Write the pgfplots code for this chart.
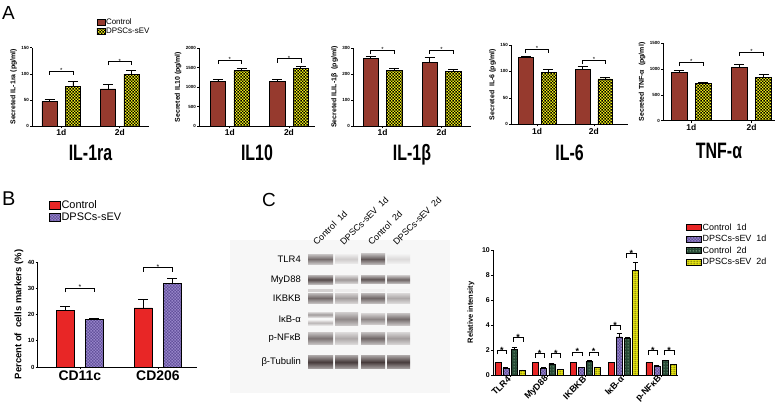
\documentclass[border=0pt]{standalone}
\usepackage{fontspec}
\setmainfont{Liberation Sans}
\usepackage{graphicx}
\usepackage{pgfplots}
\pgfplotsset{compat=1.18}
\usetikzlibrary{patterns.meta}

\definecolor{actrl}{RGB}{150,58,46}
\definecolor{ayel}{RGB}{240,238,20}
\definecolor{bred}{RGB}{232,38,38}
\definecolor{bpur}{RGB}{98,80,155}
\definecolor{bpurlt}{RGB}{150,132,200}
\definecolor{cgrn}{RGB}{38,72,52}
\definecolor{cgrnlt}{RGB}{120,160,130}
\definecolor{bandc}{RGB}{60,48,48}

\tikzdeclarepattern{name=chk, type=uncolored,
  bounding box={(0,0) and (3pt,3pt)}, tile size={(3pt,3pt)},
  code={\fill (0,0) rectangle (1.4pt,1.4pt); \fill (1.5pt,1.5pt) rectangle (2.9pt,2.9pt);}}
\tikzdeclarepattern{name=dots, type=uncolored,
  bounding box={(0,0) and (2.6pt,2.6pt)}, tile size={(2.6pt,2.6pt)},
  code={\fill (1.3pt,1.3pt) circle (0.85pt);}}
\tikzdeclarepattern{name=dash, type=uncolored,
  bounding box={(0,0) and (3pt,1.8pt)}, tile size={(3pt,1.8pt)},
  code={\fill (0.3pt,0.6pt) rectangle (2.5pt,1.2pt);}}

\tikzset{
  rowlab/.style={anchor=east, inner sep=0pt, font=\fontsize{9.5}{9.5}\selectfont},
  lanelab/.style={anchor=south west, rotate=45, inner sep=0pt, font=\fontsize{9}{9}\selectfont},
  cstar/.style={anchor=base, yshift=-3bp, font=\bfseries\fontsize{9}{9}\selectfont},
  astar/.style={anchor=base, yshift=-1.5bp, font=\fontsize{6}{6}\selectfont},
}

\pgfplotsset{
  gp/.style={scale only axis, axis lines*=left, axis line style={line width=0.7pt,-},
    tick align=outside, major tick length=2bp, tick style={line width=0.6pt, black},
    clip=false, /pgf/number format/assume math mode=true, /pgf/number format/1000 sep={}},
  Aax/.style={gp, xtick={1,2}, xticklabels={1d,2d}, ymin=0,
    yticklabel style={font=\bfseries\fontsize{4.5}{5}\selectfont, inner sep=1pt},
    xticklabel style={font=\bfseries\fontsize{8.5}{9}\selectfont, inner sep=1.5pt},
    ylabel style={font=\bfseries\fontsize{7}{8}\selectfont},
    xlabel style={font=\bfseries\fontsize{16}{16}\selectfont, at={(axis description cs:0.5,0)}, anchor=base}},
  errb/.style={error bars/y dir=plus, error bars/y explicit,
    error bars/error bar style={line width=#1, black},
    error bars/error mark options={rotate=90, line width=#1, black}},
  Abar/.style={ybar, bar width=0.26, bar shift=0pt, draw=black, line width=0.6pt,
    errb=0.8pt, error bars/error mark options={rotate=90, mark size=5bp, line width=0.8pt, black}},
  Actrl/.style={Abar, fill=actrl},
  Adpsc/.style={Abar, fill=ayel, postaction={pattern=chk, pattern color=black}},
  brk/.style={black, line width=0.6pt, mark=none},
  boxleg/.style={legend image code/.code={\draw[##1] (0bp,-3bp) rectangle (8bp,3bp);}},
  boxlegB/.style={legend image code/.code={\draw[##1] (0bp,-4bp) rectangle (11bp,4bp);}},
  boxlegC/.style={legend image code/.code={\draw[##1] (0bp,-3bp) rectangle (15bp,3bp);}},
}

\begin{document}
\begin{tikzpicture}
\path[use as bounding box] (0,0) rectangle (778bp,-413bp);

% ---------- Panel letters ----------
\node[anchor=north west, inner sep=0pt, font=\fontsize{19}{19}\selectfont] at (2bp,-6bp) {A};
\node[anchor=north west, inner sep=0pt, font=\fontsize{20}{20}\selectfont] at (2bp,-192bp) {B};
\node[anchor=north west, inner sep=0pt, font=\fontsize{19}{19}\selectfont] at (262bp,-193bp) {C};

% ---------- A1 IL-1ra ----------
\begin{axis}[Aax, at={(32bp,-126bp)}, anchor=south west, width=117bp, height=78.3bp,
  xmin=0.5, xmax=2.5, ymax=150, ytick={0,50,100,150},
  ylabel={Secreted IL-1ra (pg/ml)}, xlabel={\scalebox{1}[1.4]{IL-1ra}},
  xlabel style={yshift=-34bp},
  legend style={at={(axis description cs:0.55,1.39)}, anchor=north west, draw=none, fill=none,
    font=\fontsize{8}{8}\selectfont, row sep=0.5pt, inner sep=0pt, nodes={inner sep=1pt}},
  legend cell align=left]
\addlegendimage{boxleg, fill=actrl, draw=black, line width=0.5pt}
\addlegendentry{Control}
\addlegendimage{boxleg, fill=ayel, draw=black, line width=0.5pt, postaction={pattern=chk, pattern color=black}}
\addlegendentry{DPSCs-sEV}
\addplot[Actrl, forget plot] coordinates {(0.8,46.6) +- (0,5.1) (1.8,70.9) +- (0,8.1)};
\addplot[Adpsc, forget plot] coordinates {(1.2,76.6) +- (0,8.9) (2.2,99.6) +- (0,7.4)};
\addplot[brk, forget plot] coordinates {(0.8,98) (0.8,105) (1.2,105) (1.2,98)};
\addplot[brk, forget plot] coordinates {(1.8,116) (1.8,123) (2.2,123) (2.2,116)};
\node[astar] at (axis cs:1,105) {*};
\node[astar] at (axis cs:2,123) {*};
\end{axis}

% ---------- A2 IL10 ----------
\begin{axis}[Aax, at={(199bp,-126bp)}, anchor=south west, width=116bp, height=78bp,
  xmin=0.48, xmax=2.44, ymax=2000, ytick={0,500,1000,1500,2000},
  ylabel={Secreted IL10 (pg/ml)}, xlabel={\scalebox{1}[1.4]{IL10}},
  xlabel style={yshift=-34bp}]
\addplot[Actrl] coordinates {(0.8,1149) +- (0,42) (1.8,1149) +- (0,40)};
\addplot[Adpsc] coordinates {(1.2,1430) +- (0,42) (2.2,1472) +- (0,51)};
\addplot[brk] coordinates {(0.8,1585) (0.8,1685) (1.2,1685) (1.2,1585)};
\addplot[brk] coordinates {(1.8,1628) (1.8,1728) (2.2,1728) (2.2,1628)};
\node[astar] at (axis cs:1,1685) {*};
\node[astar] at (axis cs:2,1728) {*};
\end{axis}

% ---------- A3 IL-1b ----------
\begin{axis}[Aax, at={(353bp,-126bp)}, anchor=south west, width=118bp, height=78bp,
  xmin=0.5, xmax=2.5, ymax=300, ytick={0,100,200,300},
  ylabel={Secreted ILIL-1β\ \ (pg/ml)}, xlabel={\scalebox{1}[1.4]{IL-1β}},
  xlabel style={yshift=-34bp}]
\addplot[Actrl] coordinates {(0.8,259) +- (0,7) (1.8,246) +- (0,17)};
\addplot[Adpsc] coordinates {(1.2,214) +- (0,8) (2.2,211) +- (0,6)};
\addplot[brk] coordinates {(0.8,276) (0.8,291) (1.2,291) (1.2,276)};
\addplot[brk] coordinates {(1.8,276) (1.8,291) (2.2,291) (2.2,276)};
\node[astar] at (axis cs:1,291) {*};
\node[astar] at (axis cs:2,291) {*};
\end{axis}

% ---------- A4 IL-6 ----------
\begin{axis}[Aax, at={(511bp,-124.3bp)}, anchor=south west, width=117bp, height=79.3bp,
  xmin=0.54, xmax=2.6, ymax=150, ytick={0,50,100,150},
  ylabel={Secreted\ \ IL-6 (pg/ml)}, xlabel={\scalebox{1}[1.4]{IL-6}},
  xlabel style={yshift=-35.7bp}]
\addplot[Actrl] coordinates {(0.8,126.7) +- (0,2.3) (1.8,104.6) +- (0,4.4)};
\addplot[Adpsc] coordinates {(1.2,97.7) +- (0,6.9) (2.2,85.7) +- (0,2.5)};
\addplot[brk] coordinates {(0.8,134) (0.8,141.8) (1.2,141.8) (1.2,134)};
\addplot[brk] coordinates {(1.8,114) (1.8,121.6) (2.2,121.6) (2.2,114)};
\node[astar] at (axis cs:1,141.8) {*};
\node[astar] at (axis cs:2,121.6) {*};
\end{axis}

% ---------- A5 TNF-a ----------
\begin{axis}[Aax, at={(663bp,-120.7bp)}, anchor=south west, width=112bp, height=77.4bp,
  xmin=0.53, xmax=2.39, ymax=1500, ytick={0,500,1000,1500},
  ylabel={Secreted TNF-α\ \ (pg/ml)}, xlabel={\scalebox{1}[1.4]{TNF-α}},
  xlabel style={yshift=-38bp}]
\addplot[Actrl] coordinates {(0.8,935) +- (0,33) (1.8,1039) +- (0,52)};
\addplot[Adpsc] coordinates {(1.2,727) +- (0,13) (2.2,838) +- (0,58)};
\addplot[brk] coordinates {(0.8,1060) (0.8,1130) (1.2,1130) (1.2,1060)};
\addplot[brk] coordinates {(1.8,1255) (1.8,1325) (2.2,1325) (2.2,1255)};
\node[astar] at (axis cs:1,1130) {*};
\node[astar] at (axis cs:2,1325) {*};
\end{axis}

% ---------- B ----------
\begin{axis}[gp, at={(37.7bp,-367bp)}, anchor=south west, width=159.3bp, height=105bp,
  xmin=0.46, xmax=2.5, ymin=0, ymax=40, ytick={0,10,20,30,40},
  xtick={1,2}, xticklabels={CD11c,CD206},
  yticklabel style={font=\bfseries\fontsize{6}{6}\selectfont, inner sep=1pt},
  xticklabel style={font=\bfseries\fontsize{14}{14}\selectfont, inner sep=2pt},
  ylabel={Percent of\ \ cells markers (\%)}, ylabel style={font=\bfseries\fontsize{9.5}{10}\selectfont},
  legend style={at={(axis description cs:0.07,1.60)}, anchor=north west, draw=none, fill=none,
    font=\fontsize{11}{11}\selectfont, row sep=1pt, inner sep=0pt, nodes={inner sep=1pt}},
  legend cell align=left]
\addlegendimage{boxlegB, fill=bred, draw=black, line width=0.5pt}
\addlegendentry{Control}
\addlegendimage{boxlegB, fill=bpur, draw=black, line width=0.5pt, postaction={pattern=chk, pattern color=bpurlt}}
\addlegendentry{DPSCs-sEV}
\addplot[ybar, bar width=0.23, bar shift=0pt, draw=black, line width=0.7pt, fill=bred, forget plot,
  errb=0.8pt, error bars/error mark options={rotate=90, mark size=5bp, line width=0.8pt, black}]
  coordinates {(0.814,21.6) +- (0,1.4) (1.814,22.5) +- (0,3.1)};
\addplot[ybar, bar width=0.23, bar shift=0pt, draw=black, line width=0.7pt, fill=bpur,
  postaction={pattern=chk, pattern color=bpurlt}, forget plot,
  errb=0.8pt, error bars/error mark options={rotate=90, mark size=5bp, line width=0.8pt, black}]
  coordinates {(1.186,18.0) +- (0,0.6) (2.186,31.7) +- (0,2.1)};
\addplot[brk, forget plot] coordinates {(0.814,28.4) (0.814,30) (1.186,30) (1.186,28.4)};
\addplot[brk, forget plot] coordinates {(1.814,36.2) (1.814,37.8) (2.186,37.8) (2.186,36.2)};
\node[anchor=base, yshift=-1.5bp, font=\fontsize{7}{7}\selectfont] at (axis cs:1,30) {*};
\node[anchor=base, yshift=-1.5bp, font=\fontsize{7}{7}\selectfont] at (axis cs:2,37.8) {*};
\end{axis}

% ---------- C blot ----------
\begin{axis}[at={(230bp,-413bp)}, anchor=south west, scale only axis, width=220bp, height=223bp,
  xmin=230, xmax=450, ymin=190, ymax=413, y dir=reverse, hide axis, clip=false]
\addplot[draw=none, fill=black!3] coordinates {(230,240) (450,240) (450,393) (230,393)} -- cycle;
% TLR4
\addplot[draw=none, top color=bandc!70!white!40, bottom color=bandc!70!white!40, middle color=bandc!70] coordinates {(308,254)(333,254)(333,264)(308,264)} -- cycle;
\addplot[draw=none, top color=bandc!25!white!40, bottom color=bandc!25!white!40, middle color=bandc!25] coordinates {(335,254.5)(358,254.5)(358,263.5)(335,263.5)} -- cycle;
\addplot[draw=none, top color=bandc!80!white!40, bottom color=bandc!80!white!40, middle color=bandc!80] coordinates {(361,253.5)(385,253.5)(385,264.5)(361,264.5)} -- cycle;
\addplot[draw=none, top color=bandc!18!white!40, bottom color=bandc!18!white!40, middle color=bandc!18] coordinates {(387,254.5)(410,254.5)(410,263.5)(387,263.5)} -- cycle;
% MyD88
\addplot[draw=none, top color=bandc!88!white!40, bottom color=bandc!88!white!40, middle color=bandc!88] coordinates {(308,275)(333,275)(333,284)(308,284)} -- cycle;
\addplot[draw=none, top color=bandc!50!white!40, bottom color=bandc!50!white!40, middle color=bandc!50] coordinates {(335,275.5)(358,275.5)(358,283.5)(335,283.5)} -- cycle;
\addplot[draw=none, top color=bandc!82!white!40, bottom color=bandc!82!white!40, middle color=bandc!82] coordinates {(361,275)(385,275)(385,283.5)(361,283.5)} -- cycle;
\addplot[draw=none, top color=bandc!75!white!40, bottom color=bandc!75!white!40, middle color=bandc!75] coordinates {(387,275.5)(410,275.5)(410,283.5)(387,283.5)} -- cycle;
\addplot[draw=none, fill=bandc!22] coordinates {(308,288.5)(333,288.5)(333,291.5)(308,291.5)} -- cycle;
\addplot[draw=none, fill=bandc!9] coordinates {(335,288.5)(358,288.5)(358,291.5)(335,291.5)} -- cycle;
\addplot[draw=none, fill=bandc!8] coordinates {(361,288.5)(385,288.5)(385,291.5)(361,291.5)} -- cycle;
\addplot[draw=none, fill=bandc!6] coordinates {(387,288.5)(410,288.5)(410,291.5)(387,291.5)} -- cycle;
% IKBKB
\addplot[draw=none, top color=bandc!72!white!45, bottom color=bandc!72!white!45, middle color=bandc!72] coordinates {(308,293)(333,293)(333,303)(308,303)} -- cycle;
\addplot[draw=none, top color=bandc!48!white!45, bottom color=bandc!48!white!45, middle color=bandc!48] coordinates {(335,293)(358,293)(358,303)(335,303)} -- cycle;
\addplot[draw=none, top color=bandc!74!white!45, bottom color=bandc!74!white!45, middle color=bandc!74] coordinates {(361,293)(385,293)(385,303)(361,303)} -- cycle;
\addplot[draw=none, top color=bandc!42!white!45, bottom color=bandc!42!white!45, middle color=bandc!42] coordinates {(387,293)(410,293)(410,303)(387,303)} -- cycle;
% IkB-a
\addplot[draw=none, top color=bandc!48!white!40, bottom color=bandc!48!white!40, middle color=bandc!48] coordinates {(308,312)(333,312)(333,317)(308,317)} -- cycle;
\addplot[draw=none, top color=bandc!35!white!40, bottom color=bandc!35!white!40, middle color=bandc!35] coordinates {(308,320.5)(333,320.5)(333,325)(308,325)} -- cycle;
\addplot[draw=none, top color=bandc!58!white!45, bottom color=bandc!58!white!45, middle color=bandc!58] coordinates {(335,312.5)(358,312.5)(358,325.5)(335,325.5)} -- cycle;
\addplot[draw=none, top color=bandc!58!white!40, bottom color=bandc!58!white!40, middle color=bandc!58] coordinates {(361,313.5)(385,313.5)(385,324.5)(361,324.5)} -- cycle;
\addplot[draw=none, top color=bandc!72!white!40, bottom color=bandc!72!white!40, middle color=bandc!72] coordinates {(387,313)(410,313)(410,325)(387,325)} -- cycle;
% p-NFkB
\addplot[draw=none, top color=bandc!68!white!45, bottom color=bandc!68!white!45, middle color=bandc!68] coordinates {(308,332.5)(333,332.5)(333,344)(308,344)} -- cycle;
\addplot[draw=none, top color=bandc!42!white!45, bottom color=bandc!42!white!45, middle color=bandc!42] coordinates {(335,332.5)(358,332.5)(358,344)(335,344)} -- cycle;
\addplot[draw=none, top color=bandc!74!white!45, bottom color=bandc!74!white!45, middle color=bandc!74] coordinates {(361,332.5)(385,332.5)(385,344)(361,344)} -- cycle;
\addplot[draw=none, top color=bandc!48!white!45, bottom color=bandc!48!white!45, middle color=bandc!48] coordinates {(387,332.5)(410,332.5)(410,344)(387,344)} -- cycle;
% beta-Tubulin
\addplot[draw=none, top color=bandc!90!white!50, bottom color=bandc!90!white!50, middle color=bandc!95] coordinates {(308,355.5)(333,355.5)(333,368.5)(308,368.5)} -- cycle;
\addplot[draw=none, top color=bandc!90!white!50, bottom color=bandc!90!white!50, middle color=bandc!95] coordinates {(335,355.5)(358,355.5)(358,368.5)(335,368.5)} -- cycle;
\addplot[draw=none, top color=bandc!90!white!50, bottom color=bandc!90!white!50, middle color=bandc!95] coordinates {(361,355.5)(385,355.5)(385,368.5)(361,368.5)} -- cycle;
\addplot[draw=none, top color=bandc!90!white!50, bottom color=bandc!90!white!50, middle color=bandc!95] coordinates {(387,355.5)(410,355.5)(410,368.5)(387,368.5)} -- cycle;
% row labels
\node[rowlab] at (axis cs:301,259) {TLR4};
\node[rowlab] at (axis cs:301,280) {MyD88};
\node[rowlab] at (axis cs:301,298) {IKBKB};
\node[rowlab] at (axis cs:301,319) {IκB-α};
\node[rowlab] at (axis cs:301,338) {p-NFκB};
\node[rowlab] at (axis cs:301,362) {β-Tubulin};
% lane labels
\node[lanelab] at (axis cs:317,246) {Control\ \ 1d};
\node[lanelab] at (axis cs:344,246) {DPSCs-sEV\ \ 1d};
\node[lanelab] at (axis cs:372,246) {Control\ \ 2d};
\node[lanelab] at (axis cs:397,246) {DPSCs-sEV\ \ 2d};
\end{axis}

% ---------- C bar chart ----------
\begin{axis}[gp, at={(493bp,-375bp)}, anchor=south west, width=185bp, height=125bp,
  xmin=-0.45, xmax=4.45, ymin=0, ymax=10, ytick={0,2,4,6,8,10},
  xtick={0,1,2,3,4}, xticklabels={TLR4,MyD88,IKBKB,IκB-α,p-NFκB},
  yticklabel style={font=\bfseries\fontsize{7}{7}\selectfont, inner sep=1pt},
  xticklabel style={font=\bfseries\fontsize{9}{9}\selectfont, rotate=45, anchor=east, inner sep=1pt},
  ylabel={Relative intensity}, ylabel style={font=\bfseries\fontsize{7.5}{8}\selectfont, yshift=3bp},
  legend style={at={(axis description cs:1.043,1.22)}, anchor=north west, draw=none, fill=none,
    font=\fontsize{9}{9}\selectfont, row sep=1.5pt, inner sep=0pt, nodes={inner sep=1pt}},
  legend cell align=left]
\addlegendimage{boxlegC, fill=bred, draw=black, line width=0.5pt}
\addlegendentry{Control\ \ 1d}
\addlegendimage{boxlegC, fill=bpur, draw=black, line width=0.5pt, postaction={pattern=chk, pattern color=bpurlt}}
\addlegendentry{DPSCs-sEV\ \ 1d}
\addlegendimage{boxlegC, fill=cgrn, draw=black, line width=0.5pt, postaction={pattern=dots, pattern color=cgrnlt}}
\addlegendentry{Control\ \ 2d}
\addlegendimage{boxlegC, fill=ayel, draw=black, line width=0.5pt, postaction={pattern=dash, pattern color=black}}
\addlegendentry{DPSCs-sEV\ \ 2d}
\addplot[ybar, bar width=0.16, bar shift=0pt, draw=black, line width=0.5pt, fill=bred, forget plot,
  errb=0.6pt, error bars/error mark options={rotate=90, mark size=2.5bp, line width=0.6pt, black}]
  coordinates {(-0.32,1) +- (0,0.02) (0.68,1) +- (0,0.02) (1.68,1) +- (0,0.02) (2.68,1) +- (0,0.02) (3.68,1) +- (0,0.02)};
\addplot[ybar, bar width=0.16, bar shift=0pt, draw=black, line width=0.5pt, fill=bpur,
  postaction={pattern=chk, pattern color=bpurlt}, forget plot,
  errb=0.6pt, error bars/error mark options={rotate=90, mark size=2.5bp, line width=0.6pt, black}]
  coordinates {(-0.107,0.55) +- (0,0.05) (0.893,0.55) +- (0,0.04) (1.893,0.6) +- (0,0.04) (2.893,3.05) +- (0,0.27) (3.893,0.74) +- (0,0.04)};
\addplot[ybar, bar width=0.16, bar shift=0pt, draw=black, line width=0.5pt, fill=cgrn,
  postaction={pattern=dots, pattern color=cgrnlt}, forget plot,
  errb=0.6pt, error bars/error mark options={rotate=90, mark size=2.5bp, line width=0.6pt, black}]
  coordinates {(0.107,2.05) +- (0,0.15) (1.107,0.9) +- (0,0.05) (2.107,1.1) +- (0,0.06) (3.107,2.92) +- (0,0.07) (4.107,1.17) +- (0,0.04)};
\addplot[ybar, bar width=0.16, bar shift=0pt, draw=black, line width=0.5pt, fill=ayel,
  postaction={pattern=dash, pattern color=black}, forget plot,
  errb=0.6pt, error bars/error mark options={rotate=90, mark size=2.5bp, line width=0.6pt, black}]
  coordinates {(0.32,0.37) +- (0,0.04) (1.32,0.45) +- (0,0.04) (2.32,0.6) +- (0,0.04) (3.32,8.4) +- (0,0.62) (4.32,0.83) +- (0,0.04)};
% brackets
\addplot[brk, forget plot] coordinates {(-0.34,1.65) (-0.34,2.0) (-0.09,2.0) (-0.09,1.65)};
\addplot[brk, forget plot] coordinates {(0.09,2.65) (0.09,3.0) (0.34,3.0) (0.34,2.65)};
\addplot[brk, forget plot] coordinates {(0.66,1.4) (0.66,1.75) (0.91,1.75) (0.91,1.4)};
\addplot[brk, forget plot] coordinates {(1.09,1.4) (1.09,1.75) (1.34,1.75) (1.34,1.4)};
\addplot[brk, forget plot] coordinates {(1.66,1.5) (1.66,1.85) (1.91,1.85) (1.91,1.5)};
\addplot[brk, forget plot] coordinates {(2.09,1.5) (2.09,1.85) (2.34,1.85) (2.34,1.5)};
\addplot[brk, forget plot] coordinates {(2.66,3.6) (2.66,3.95) (2.91,3.95) (2.91,3.6)};
\addplot[brk, forget plot] coordinates {(3.09,9.35) (3.09,9.7) (3.34,9.7) (3.34,9.35)};
\addplot[brk, forget plot] coordinates {(3.66,1.6) (3.66,1.95) (3.91,1.95) (3.91,1.6)};
\addplot[brk, forget plot] coordinates {(4.09,1.6) (4.09,1.95) (4.34,1.95) (4.34,1.6)};
\node[cstar] at (axis cs:-0.215,2.0) {*};
\node[cstar] at (axis cs:0.215,3.0) {*};
\node[cstar] at (axis cs:0.785,1.75) {*};
\node[cstar] at (axis cs:1.215,1.75) {*};
\node[cstar] at (axis cs:1.785,1.85) {*};
\node[cstar] at (axis cs:2.215,1.85) {*};
\node[cstar] at (axis cs:2.785,3.95) {*};
\node[cstar] at (axis cs:3.215,9.7) {*};
\node[cstar] at (axis cs:3.785,1.95) {*};
\node[cstar] at (axis cs:4.215,1.95) {*};
\end{axis}
\end{tikzpicture}
\end{document}
